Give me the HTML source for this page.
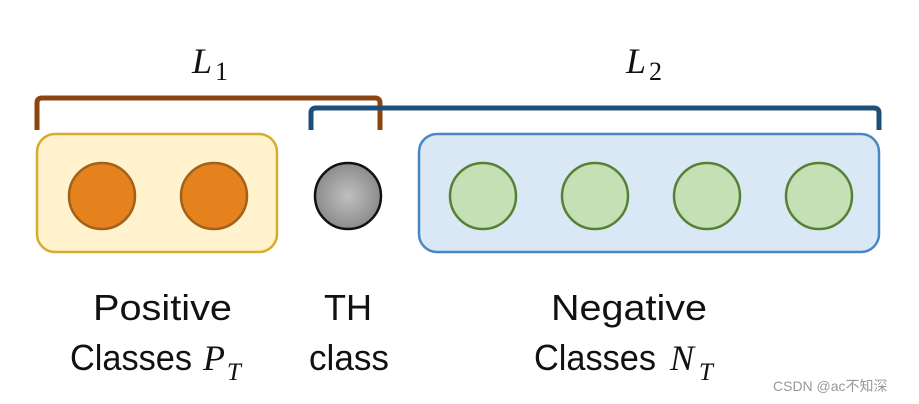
<!DOCTYPE html>
<html><head><style>
html,body{margin:0;padding:0;background:#fff;width:919px;height:404px;overflow:hidden}
</style></head><body>
<svg width="919" height="404" xmlns="http://www.w3.org/2000/svg">
<defs>
<radialGradient id="g" cx="50%" cy="50%" r="50%">
<stop offset="0" stop-color="#c0c0c0"/><stop offset="1" stop-color="#8c8c8c"/>
</radialGradient>
</defs>
<rect width="919" height="404" fill="#fff"/>
<rect x="37" y="134" width="240" height="118" rx="18" fill="#fff2cc" stroke="#d6ac2c" stroke-width="2.5"/>
<rect x="419" y="134" width="460" height="118" rx="18" fill="#dae8f5" stroke="#4a86c5" stroke-width="2.5"/>
<path d="M37 130 V103 Q37 98 42 98 H375 Q380 98 380 103 V130" fill="none" stroke="#8b4513" stroke-width="5"/>
<path d="M311 130 V113 Q311 108 316 108 H874 Q879 108 879 113 V130" fill="none" stroke="#1f4e79" stroke-width="5"/>
<g fill="#e6821e" stroke="#a0611a" stroke-width="2.5">
<circle cx="102" cy="196" r="33"/><circle cx="214" cy="196" r="33"/>
</g>
<circle cx="348" cy="196" r="33" fill="url(#g)" stroke="#111" stroke-width="2.5"/>
<g fill="#c5e0b4" stroke="#548235" stroke-width="2.5">
<circle cx="483" cy="196" r="33"/><circle cx="595" cy="196" r="33"/>
<circle cx="707" cy="196" r="33"/><circle cx="819" cy="196" r="33"/>
</g>
<g font-family="Liberation Serif, serif" font-style="italic" fill="#111">
<text x="192" y="73" font-size="36">L</text><text x="215" y="80" font-size="26" font-style="normal">1</text>
<text x="626" y="73" font-size="36">L</text><text x="649" y="80" font-size="26" font-style="normal">2</text>
</g>
<g font-family="Liberation Sans, sans-serif" font-size="36" fill="#111">
<text x="93" y="320" textLength="139" lengthAdjust="spacingAndGlyphs">Positive</text>
<text x="70" y="370" textLength="122" lengthAdjust="spacingAndGlyphs">Classes</text>
<text x="324" y="320" textLength="48" lengthAdjust="spacingAndGlyphs">TH</text>
<text x="309" y="370" textLength="80" lengthAdjust="spacingAndGlyphs">class</text>
<text x="551" y="320" textLength="156" lengthAdjust="spacingAndGlyphs">Negative</text>
<text x="534" y="370" textLength="122" lengthAdjust="spacingAndGlyphs">Classes</text>
</g>
<g font-family="Liberation Serif, serif" font-style="italic" fill="#111">
<text x="203" y="370" font-size="36">P</text><text x="227" y="380" font-size="25">T</text>
<text x="670" y="370" font-size="36">N</text><text x="699" y="380" font-size="25">T</text>
</g>
<text x="773" y="391" font-family="Liberation Sans, 'Noto Sans CJK SC', sans-serif" font-size="14" fill="#999">CSDN @ac不知深</text>
</svg>
</body></html>
